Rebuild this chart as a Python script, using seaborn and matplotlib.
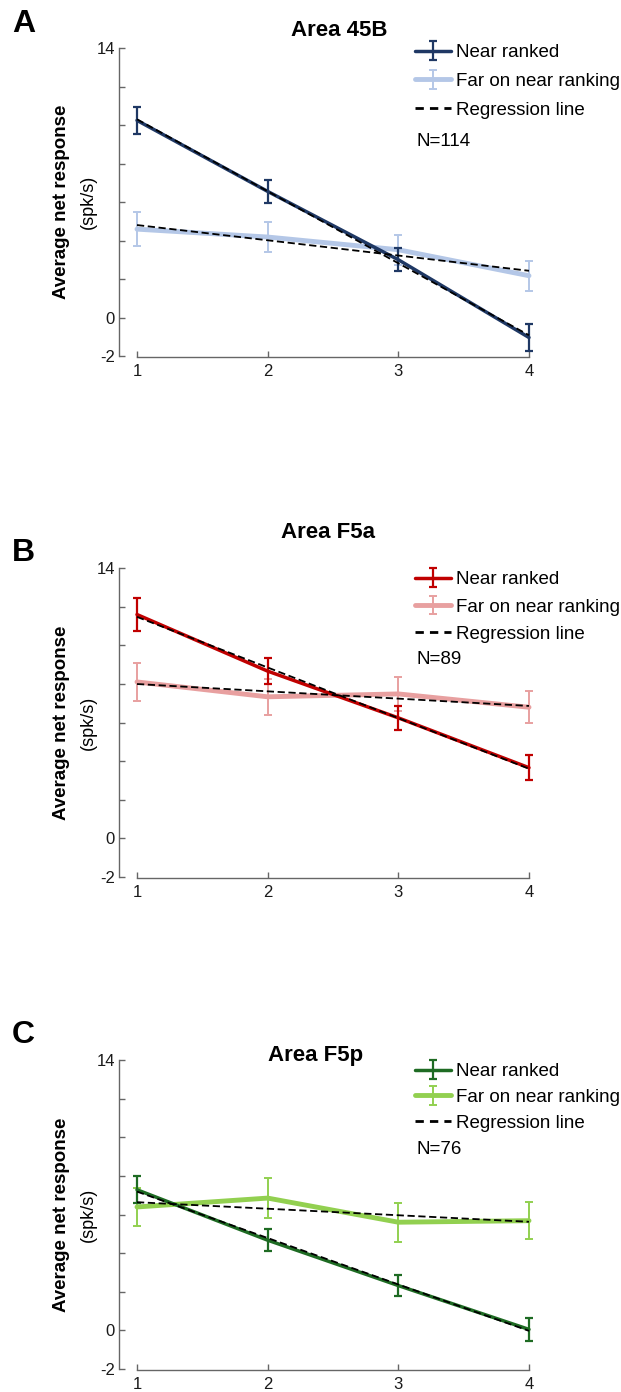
import numpy as np
import pandas as pd
import matplotlib
matplotlib.use("Agg")
import matplotlib.pyplot as plt
import seaborn as sns

# ---------------- data ----------------
ranks = [1, 2, 3, 4]

near_45b = [10.24, 6.55, 3.00, -1.04]
near_45b_err = [0.70, 0.60, 0.60, 0.70]
far_45b = [4.59, 4.18, 3.52, 2.17]
far_45b_err = [0.87, 0.76, 0.78, 0.78]

near_f5a = [11.59, 8.66, 6.24, 3.66]
near_f5a_err = [0.85, 0.69, 0.62, 0.65]
far_f5a = [8.10, 7.33, 7.48, 6.79]
far_f5a_err = [0.97, 0.93, 0.90, 0.84]

near_f5p = [7.28, 4.67, 2.32, 0.05]
near_f5p_err = [0.69, 0.57, 0.56, 0.60]
far_f5p = [6.39, 6.85, 5.60, 5.68]
far_f5p_err = [0.99, 1.05, 1.00, 0.96]

panel_letters = ["A", "B", "C"]
titles = ["Area 45B", "Area F5a", "Area F5p"]
n_labels = ["N=114", "N=89", "N=76"]
legend_labels = ["Near ranked", "Far on near ranking", "Regression line"]
ytick_vals = [-2, 0, 2, 4, 6, 8, 10, 12, 14]
ytick_labels = ["-2", "0", "", "", "", "", "", "", "14"]

near_colors = ["#1f3864", "#c00000", "#1e6b23"]
far_colors = ["#b4c7e7", "#e8a0a0", "#92d050"]

panels = [
    (near_45b, near_45b_err, far_45b, far_45b_err),
    (near_f5a, near_f5a_err, far_f5a, far_f5a_err),
    (near_f5p, near_f5p_err, far_f5p, far_f5p_err),
]

# ---------------- style ----------------
sns.set_theme(style="ticks")
plt.rcParams["font.family"] = ["Liberation Sans", "DejaVu Sans"]
plt.rcParams["text.color"] = "black"

W, H = 621, 1392
fig = plt.figure(figsize=(W / 100, H / 100), dpi=100)

def fx(px):
    return px / W

def fy(py):
    return 1 - py / H

# layout in pixels: (top of axis 14, bottom -2)
axes_px = [(48, 356), (568, 877), (1060, 1369)]
left_px, right_px = 119, 560
x1_px, x4_px = 137, 529
unit = (x4_px - x1_px) / 3.0
xlim = (1 - (x1_px - left_px) / unit, 4 + (right_px - x4_px) / unit)

letter_pos = [(12, 24), (12, 553), (12, 1035)]
title_pos = [(339, 30), (328, 533), (316, 1055)]
legend_top = [44, 571, 1063]
legend_spacing = [0.62, 0.55, 0.46]
n_pos = [(416, 141), (416, 660), (416, 1150)]

spine_col = "#666666"

for i, (near, near_err, far, far_err) in enumerate(panels):
    top, bot = axes_px[i]
    ax = fig.add_axes([fx(left_px), fy(bot), fx(right_px - left_px), (bot - top) / H])
    ax.set_facecolor("none")

    df_near = pd.DataFrame({"rank": ranks, "resp": near})
    df_far = pd.DataFrame({"rank": ranks, "resp": far})

    h_near = ax.errorbar(ranks, near, yerr=near_err, color=near_colors[i], lw=2.5,
                         elinewidth=1.6, capsize=3, capthick=1.6, zorder=3,
                         label=legend_labels[0])
    h_far = ax.errorbar(ranks, far, yerr=far_err, color=far_colors[i], lw=3.5,
                        elinewidth=1.4, capsize=3, capthick=1.4, zorder=2,
                        label=legend_labels[1])
    sns.regplot(data=df_near, x="rank", y="resp", ax=ax, scatter=False, ci=None,
                truncate=True,
                line_kws=dict(color="black", lw=1.3, ls=(0, (4, 2)), zorder=4))
    sns.regplot(data=df_far, x="rank", y="resp", ax=ax, scatter=False, ci=None,
                truncate=True,
                line_kws=dict(color="black", lw=1.3, ls=(0, (4, 2)), zorder=4))
    reg_handle = plt.Line2D([], [], color="black", lw=2.0, ls=(0, (3, 2.2)))

    ax.set_xlim(*xlim)
    ax.set_ylim(-2, 14)
    ax.set_xticks(ranks)
    ax.set_xticklabels([str(r) for r in ranks])
    ax.set_yticks(ytick_vals)
    ax.set_yticklabels(ytick_labels)
    ax.set_xlabel("")
    ax.set_ylabel("")
    for s in ["top", "right"]:
        ax.spines[s].set_visible(False)
    ax.spines["left"].set_bounds(-2, 14)
    ax.spines["bottom"].set_bounds(1, 4)
    ax.spines["bottom"].set_position(("data", -2.05))
    for s in ["left", "bottom"]:
        ax.spines[s].set_color(spine_col)
        ax.spines[s].set_linewidth(1.0)
    ax.tick_params(axis="both", direction="in", length=4, width=1.0,
                   color=spine_col, labelsize=12, labelcolor="#1a1a1a", pad=3)
    ax.tick_params(axis="x", pad=5)

    # y-label (two lines)
    ymid = (top + bot) / 2
    fig.text(fx(62), fy(ymid), "Average net response", rotation=90, ha="center",
             va="center", fontsize=13.5, fontweight="bold")
    fig.text(fx(88), fy(ymid), "(spk/s)", rotation=90, ha="center", va="center",
             fontsize=13)

    # panel letter and title
    fig.text(fx(letter_pos[i][0]), fy(letter_pos[i][1]), panel_letters[i],
             fontsize=23, fontweight="bold", ha="left", va="center")
    fig.text(fx(title_pos[i][0]), fy(title_pos[i][1]), titles[i], fontsize=16,
             fontweight="bold", ha="center", va="center")

    fig.legend([h_near, h_far, reg_handle], legend_labels, loc="upper left",
               bbox_to_anchor=(fx(415), fy(legend_top[i])), frameon=False,
               borderpad=0, borderaxespad=0, handlelength=1.9, handletextpad=0.3,
               labelspacing=legend_spacing[i], fontsize=13.5)
    fig.text(fx(n_pos[i][0]), fy(n_pos[i][1]), n_labels[i], fontsize=13.5,
             ha="left", va="center")

fig.savefig("out.png", dpi=100)
